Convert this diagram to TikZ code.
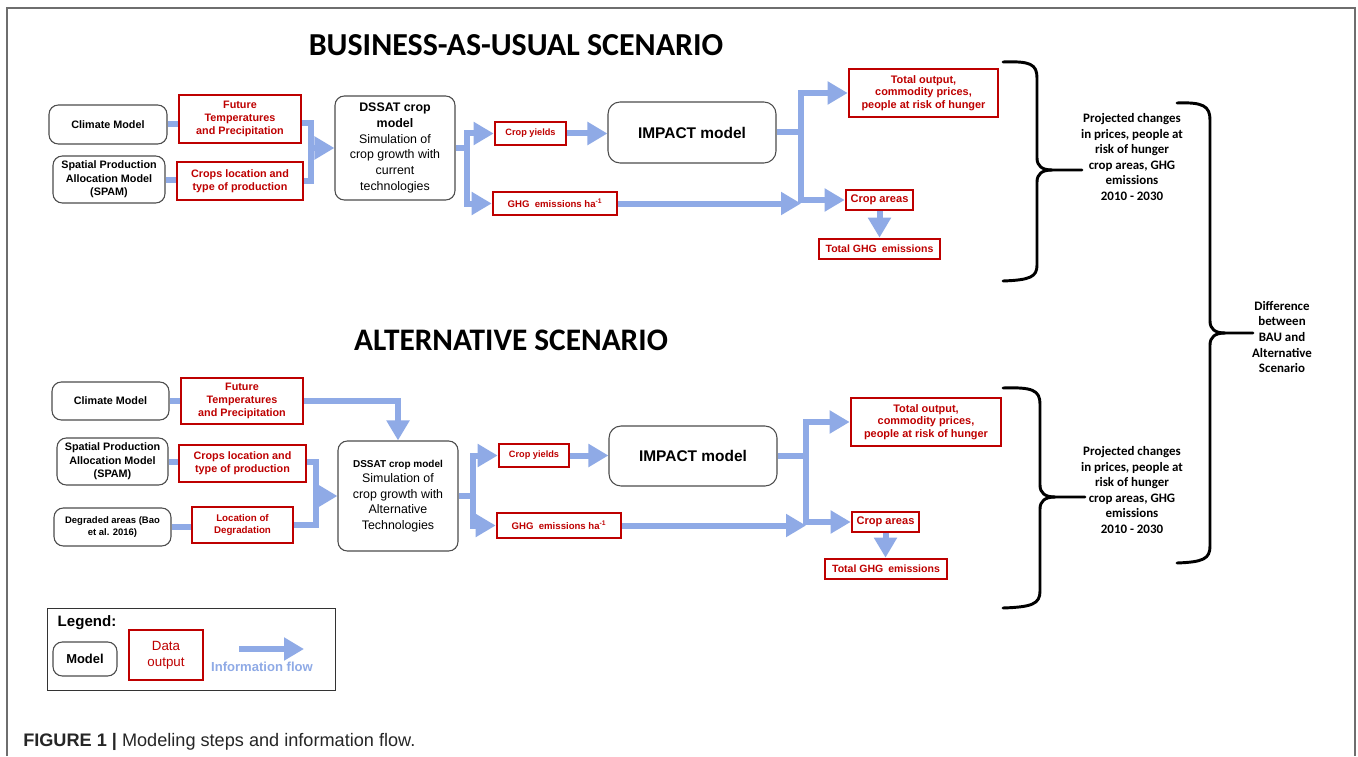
\documentclass[tikz,border=0pt]{standalone}
\usepackage{fontspec}
\setmainfont{Liberation Sans}
\newfontfamily\carl{Carlito}
\usetikzlibrary{arrows.meta,calc}
\definecolor{flow}{RGB}{143,170,230}
\definecolor{dred}{RGB}{190,0,0}
\definecolor{frm}{RGB}{110,110,110}
\newcommand\bx[8][]{%
  \pgfmathsetmacro\bxw{(#6-#4)*0.75}%
  \pgfmathsetmacro\bxh{(#7-#5)*0.75}%
  \node[#2, minimum width=\bxw pt, minimum height=\bxh pt, #1] (#3) at ({(#4+#6)/2},{(#5+#7)/2}) {#8};}
\begin{document}
\begin{tikzpicture}[x=0.75pt,y=-0.75pt,
  model/.style={draw=black!70, line width=0.8pt, rounded corners=7pt, inner sep=0pt, align=center, font=\bfseries\fontsize{8.1}{10}\selectfont},
  data/.style={draw=dred, line width=2pt, text=dred, inner sep=0pt, align=center, font=\bfseries\fontsize{8.1}{9.75}\selectfont},
  fl/.style={draw=flow, line width=4.5pt},
  fa/.style={fl, -{Triangle[length=15pt,width=16.5pt]}},
  side/.style={font=\carl\bfseries\fontsize{9.7}{11.7}\selectfont, align=center},
  title/.style={font=\carl\bfseries\fontsize{23.5}{27}\selectfont},
  brace/.style={draw=black, line width=2.2pt, line cap=round, line join=round}
]
\useasboundingbox (0,0) rectangle (1358,756);
\fill[white] (0,0) rectangle (1358,756);
\draw[frm, line width=1.2pt] (7,756) -- (7,8) -- (1355,8) -- (1355,756);

% ---------- titles ----------
\node[title, font=\carl\bfseries\fontsize{24}{27}\selectfont] (t1) at (516,45) {BUSINESS-AS-USUAL SCENARIO};
\node[title] (t2) at (511,340) {ALTERNATIVE SCENARIO};

% ---------- BAU ----------
\bx{model}{cm1}{49}{105}{167}{144}{Climate Model}
\bx{data}{fut1}{179}{95}{301}{143}{Future\\Temperatures\\and Precipitation}
\bx{model}{spam1}{53}{156}{165}{203}{Spatial Production\\Allocation Model\\(SPAM)}
\bx{data}{loc1}{177}{162}{303}{200}{Crops location and\\type of production}
\bx[font=\fontsize{9.3}{11.8}\selectfont]{model}{dssat1}{335}{96}{455}{200}{\textbf{DSSAT crop}\\\textbf{model}\\Simulation of\\crop growth with\\current\\technologies}
\bx[font=\bfseries\fontsize{6.9}{8}\selectfont]{data}{cy1}{495}{122}{566}{145}{Crop yields}
\bx[font=\bfseries\fontsize{7.2}{8}\selectfont]{data}{ghg1}{493}{192}{617}{215}{GHG\hspace{2pt} emissions ha\textsuperscript{-1}}
\bx[font=\bfseries\fontsize{11.6}{13}\selectfont, rounded corners=9pt]{model}{imp1}{608}{102}{776}{163}{IMPACT model}
\bx[font=\bfseries\fontsize{8.2}{9.5}\selectfont]{data}{tot1}{849}{69}{998}{117}{Total output,\\commodity prices,\\people at risk of hunger}
\bx[font=\bfseries\fontsize{8.3}{9}\selectfont]{data}{ca1}{846}{190}{913}{210}{Crop areas}
\bx[font=\bfseries\fontsize{7.9}{9}\selectfont]{data}{tg1}{819}{239}{940}{259}{Total GHG\hspace{1.5pt} emissions}

\coordinate (ja) at (311,123);
\coordinate (jb) at (311,181);
\coordinate (jm) at (311,148);
\draw[fl] (cm1.east) -- (cm1.east -| fut1.west);
\draw[fl] (spam1.east) -- (spam1.east -| loc1.west);
\draw[fl] (fut1.east |- ja) -- (ja) -- (jb) -- (loc1.east |- jb);
\draw[fa] (jm) -- (jm -| dssat1.west);

\coordinate (jc) at (467,148);
\coordinate (jct) at (467,133.5);
\coordinate (jcb) at (467,203.5);
\draw[fl] (dssat1.east) -- (jc);
\draw[fa] (jcb) -- (jct) -- (cy1.west);
\draw[fa] (jct) -- (jcb) -- (ghg1.west);
\draw[fa] (cy1.east) -- (cy1.east -| imp1.west);

\coordinate (jd) at (801,132.5);
\coordinate (jdt) at (801,93);
\coordinate (jdb) at (801,200);
\draw[fl] (imp1.east) -- (jd);
\draw[fa] (jdb) -- (jdt) -- (tot1.west);
\draw[fa] (jdt) -- (jdb) -- (ca1.west);
\draw[fa] (ghg1.east) -- (ghg1.east -| jd);
\draw[fa] (ca1.south) -- (ca1.south |- tg1.north);

% ---------- Alternative ----------
\bx{model}{cm2}{52}{382}{169}{420}{Climate Model}
\bx{data}{fut2}{181}{378}{303}{424}{Future\\Temperatures\\and Precipitation}
\bx{model}{spam2}{57}{438}{168}{485}{Spatial Production\\Allocation Model\\(SPAM)}
\bx{data}{loc2}{179}{445}{306}{482}{Crops location and\\type of production}
\bx[font=\bfseries\fontsize{7.1}{9.5}\selectfont]{model}{deg2}{54}{508}{171}{546}{Degraded areas (Bao\\et al. 2016)}
\bx[font=\bfseries\fontsize{7.3}{9.5}\selectfont]{data}{ldeg2}{192}{507}{293}{543}{Location of\\Degradation}
\bx[font=\fontsize{9.3}{11.6}\selectfont]{model}{dssat2}{338}{441}{458}{551}{{\bfseries\fontsize{7.5}{11.6}\selectfont DSSAT crop model}\\Simulation of\\crop growth with\\Alternative\\Technologies}
\bx[font=\bfseries\fontsize{6.9}{8}\selectfont]{data}{cy2}{499}{444}{569}{467}{Crop yields}
\bx[font=\bfseries\fontsize{7.2}{8}\selectfont]{data}{ghg2}{497}{513}{621}{538}{GHG\hspace{2pt} emissions ha\textsuperscript{-1}}
\bx[font=\bfseries\fontsize{11.6}{13}\selectfont, rounded corners=9pt]{model}{imp2}{609}{426}{777}{486}{IMPACT model}
\bx[font=\bfseries\fontsize{8.2}{9.5}\selectfont]{data}{tot2}{851}{398}{1001}{446}{Total output,\\commodity prices,\\people at risk of hunger}
\bx[font=\bfseries\fontsize{8.3}{9}\selectfont]{data}{ca2}{852}{512}{919}{532}{Crop areas}
\bx[font=\bfseries\fontsize{7.9}{9}\selectfont]{data}{tg2}{825}{559}{947}{579}{Total GHG\hspace{1.5pt} emissions}

\coordinate (ka) at (398,401);
\coordinate (kt) at (316,462);
\coordinate (kb) at (316,525);
\coordinate (km) at (316,496);
\draw[fl] (cm2.east) -- (cm2.east -| fut2.west);
\draw[fa] (fut2.east) -- (ka) -- (dssat2.north);
\draw[fl] (spam2.east) -- (spam2.east -| loc2.west);
\draw[fl] (deg2.east) -- (deg2.east -| ldeg2.west);
\draw[fl] (loc2.east |- kt) -- (kt) -- (kb) -- (ldeg2.east |- kb);
\draw[fa] (km) -- (km -| dssat2.west);

\coordinate (kc) at (473,496);
\coordinate (kct) at (473,455.5);
\coordinate (kcb) at (473,525.5);
\draw[fl] (dssat2.east) -- (kc);
\draw[fa] (kcb) -- (kct) -- (cy2.west);
\draw[fa] (kct) -- (kcb) -- (ghg2.west);
\draw[fa] (cy2.east) -- (cy2.east -| imp2.west);

\coordinate (kd) at (806,456);
\coordinate (kdt) at (806,422);
\coordinate (kdb) at (806,522);
\draw[fl] (imp2.east) -- (kd);
\draw[fa] (kdb) -- (kdt) -- (tot2.west);
\draw[fa] (kdt) -- (kdb) -- (ca2.west);
\draw[fa] (ghg2.east) -- (ghg2.east -| kd);
\draw[fa] (ca2.south) -- (ca2.south |- tg2.north);

% ---------- braces and side texts ----------
\draw[brace] (1003,62) .. controls (1030,61) and (1037,64) .. (1037,78) -- (1037,158)
  .. controls (1037,166) and (1042,170) .. (1052,170) -- (1082,170);
\draw[brace] (1052,170) .. controls (1042,170) and (1037,174) .. (1037,182) -- (1037,265)
  .. controls (1037,277) and (1030,280) .. (1003,281);
\node[side] (s1) at (1132,157) {Projected changes\\in prices,\ people at\\risk of hunger\\crop areas,\ GHG\\emissions\\2010 - 2030};

\draw[brace] (1003,388) .. controls (1032,387) and (1040,390) .. (1040,404) -- (1040,485)
  .. controls (1040,493) and (1045,497) .. (1055,497) -- (1085,497);
\draw[brace] (1055,497) .. controls (1045,497) and (1040,501) .. (1040,509) -- (1040,591)
  .. controls (1040,604) and (1032,607) .. (1003,608);
\node[side] (s2) at (1132,490) {Projected changes\\in prices,\ people at\\risk of hunger\\crop areas,\ GHG\\emissions\\2010 - 2030};

\draw[brace] (1177,103) .. controls (1203,102) and (1210,106) .. (1210,120) -- (1210,321)
  .. controls (1210,329) and (1215,333) .. (1225,333) -- (1253,333);
\draw[brace] (1225,333) .. controls (1215,333) and (1210,337) .. (1210,345) -- (1210,546)
  .. controls (1210,559) and (1203,562) .. (1177,563);
\node[side] (s3) at (1282,337) {Difference\\between\\BAU and\\Alternative\\Scenario};

% ---------- legend ----------
\bx[draw=black!80, line width=0.7pt, inner sep=0pt]{}{leg}{47}{608}{335}{690}{}
\node[anchor=west, font=\bfseries\fontsize{11.3}{13}\selectfont] (legt) at (53,623) {Legend:};
\bx[font=\bfseries\fontsize{9.7}{11}\selectfont]{model}{lm}{53}{642}{117}{676}{Model}
\bx[font=\fontsize{10}{12}\selectfont]{data}{ld}{129}{630}{203}{680}{Data\\output}
\coordinate (la) at (239,649);
\coordinate (lb) at (304,649);
\draw[fa] (la) -- (lb);
\node[font=\bfseries\fontsize{9.8}{11}\selectfont, text=flow] (lf) at (262,667) {Information flow};

% ---------- caption ----------
\node[anchor=base west, font=\fontsize{13.6}{15}\selectfont, text=black!85, inner sep=0pt] (cap) at (23,746) {\textbf{FIGURE 1 |} Modeling steps and information flow.};
\end{tikzpicture}
\end{document}
